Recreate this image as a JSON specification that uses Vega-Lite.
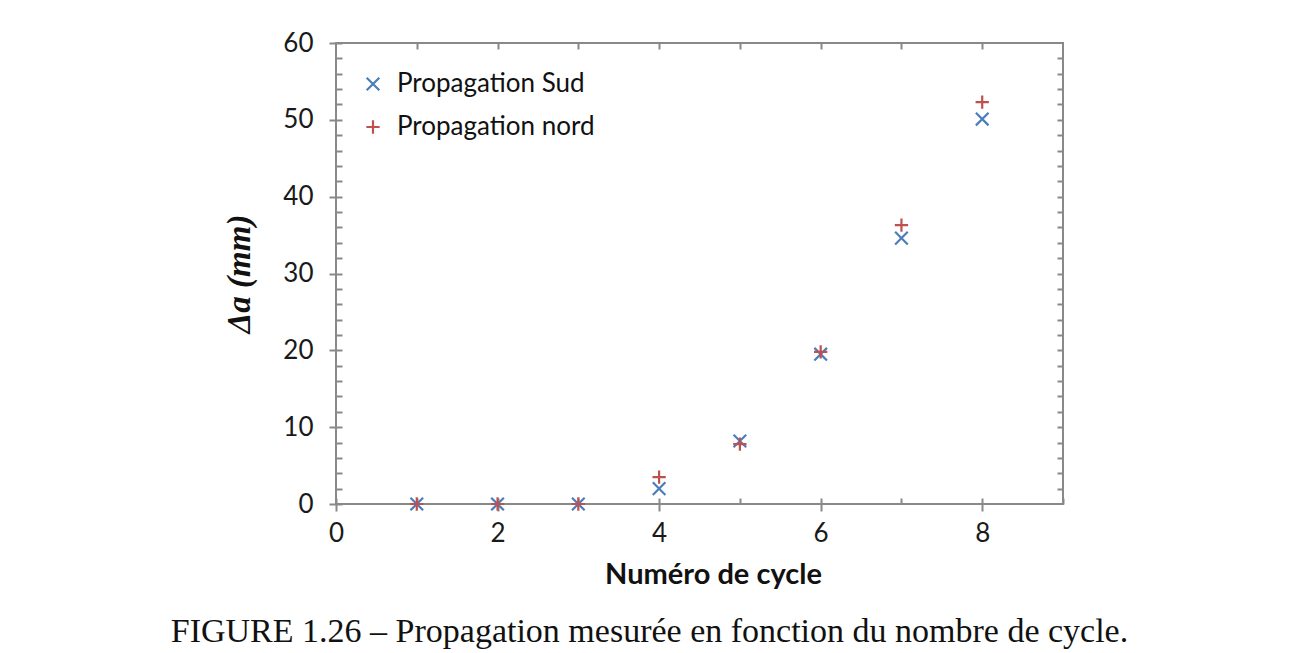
{
  "$schema": "https://vega.github.io/schema/vega-lite/v6.json",
  "width": 727,
  "height": 461,
  "autosize": {"type": "none"},
  "padding": {"left": 336, "top": 43, "right": 227, "bottom": 149},
  "background": "white",
  "config": {
    "view": {"stroke": "#898989", "strokeWidth": 2},
    "axis": {"domain": false, "grid": false, "tickColor": "#898989", "tickWidth": 2, "labelFont": "Lato", "labelFontSize": 26, "labelColor": "#1a1a1a"}
  },
  "title": {
    "text": "FIGURE 1.26 – Propagation mesurée en fonction du nombre de cycle.",
    "orient": "bottom",
    "anchor": "middle",
    "font": "Liberation Serif",
    "fontSize": 34,
    "fontWeight": "normal",
    "color": "#111111",
    "offset": 26,
    "dx": -50
  },
  "data": {
    "values": [
      {"cycle": 1, "da": 0, "serie": "Propagation Sud"},
      {"cycle": 2, "da": 0, "serie": "Propagation Sud"},
      {"cycle": 3, "da": 0, "serie": "Propagation Sud"},
      {"cycle": 4, "da": 2.0, "serie": "Propagation Sud"},
      {"cycle": 5, "da": 8.2, "serie": "Propagation Sud"},
      {"cycle": 6, "da": 19.5, "serie": "Propagation Sud"},
      {"cycle": 7, "da": 34.6, "serie": "Propagation Sud"},
      {"cycle": 8, "da": 50.1, "serie": "Propagation Sud"},
      {"cycle": 1, "da": 0, "serie": "Propagation nord"},
      {"cycle": 2, "da": 0, "serie": "Propagation nord"},
      {"cycle": 3, "da": 0, "serie": "Propagation nord"},
      {"cycle": 4, "da": 3.5, "serie": "Propagation nord"},
      {"cycle": 5, "da": 7.8, "serie": "Propagation nord"},
      {"cycle": 6, "da": 19.8, "serie": "Propagation nord"},
      {"cycle": 7, "da": 36.3, "serie": "Propagation nord"},
      {"cycle": 8, "da": 52.3, "serie": "Propagation nord"}
    ]
  },
  "resolve": {"axis": {"x": "independent", "y": "independent"}},
  "layer": [
    {
      "mark": {"type": "point", "filled": false, "strokeWidth": 2.2, "size": 160, "opacity": 1},
      "encoding": {
        "x": {
          "field": "cycle", "type": "quantitative",
          "scale": {"domain": [0, 9], "nice": false, "zero": false},
          "axis": {"orient": "bottom", "values": [0, 2, 4, 6, 8], "tickSize": 13, "offset": -6, "labelPadding": 9, "labelFlush": false,
                   "title": "Numéro de cycle", "titleFont": "Lato", "titleFontSize": 29, "titleFontWeight": "bold", "titleColor": "#111111", "titlePadding": 14, "titleX": 377}
        },
        "y": {
          "field": "da", "type": "quantitative",
          "scale": {"domain": [0, 60], "nice": false, "zero": true},
          "axis": {"orient": "left", "values": [0, 10, 20, 30, 40, 50, 60], "tickSize": 13, "offset": -6, "labelPadding": 16,
                   "title": "Δa (mm)", "titleFont": "Liberation Serif", "titleFontSize": 33, "titleFontWeight": "bold", "titleFontStyle": "italic", "titleColor": "#111111", "titlePadding": 26}
        },
        "color": {
          "field": "serie", "type": "nominal",
          "scale": {"domain": ["Propagation Sud", "Propagation nord"], "range": ["#4A7EBB", "#C0504D"]},
          "legend": {
            "title": null, "orient": "none", "legendX": 24, "legendY": 28,
            "labelFont": "Lato", "labelFontSize": 26, "labelColor": "#111111", "labelOffset": 11, "labelLimit": 0,
            "rowPadding": 17, "symbolSize": 160, "symbolStrokeWidth": 2.2
          }
        },
        "shape": {
          "field": "serie", "type": "nominal",
          "scale": {"domain": ["Propagation Sud", "Propagation nord"], "range": ["M-1,-1L1,1M-1,1L1,-1", "M0,-1.05L0,1.05M-1.05,0L1.05,0"]}
        }
      }
    },
    {
      "mark": {"type": "point", "opacity": 0},
      "encoding": {
        "x": {"field": "cycle", "type": "quantitative",
              "axis": {"orient": "bottom", "values": [1, 3, 5, 7, 9], "tickSize": -6, "labels": false, "title": null}},
        "y": {"field": "da", "type": "quantitative",
              "axis": {"orient": "left", "values": [2, 4, 6, 8, 12, 14, 16, 18, 22, 24, 26, 28, 32, 34, 36, 38, 42, 44, 46, 48, 52, 54, 56, 58], "tickSize": -6, "labels": false, "title": null}}
      }
    },
    {
      "mark": {"type": "point", "opacity": 0},
      "encoding": {
        "x": {"field": "cycle", "type": "quantitative",
              "axis": {"orient": "top", "values": [1, 2, 3, 4, 5, 6, 7, 8], "tickSize": -6, "labels": false, "title": null}},
        "y": {"field": "da", "type": "quantitative",
              "axis": {"orient": "right", "values": [2, 4, 6, 8, 10, 12, 14, 16, 18, 20, 22, 24, 26, 28, 30, 32, 34, 36, 38, 40, 42, 44, 46, 48, 50, 52, 54, 56, 58], "tickSize": -6, "labels": false, "title": null}}
      }
    }
  ]
}
